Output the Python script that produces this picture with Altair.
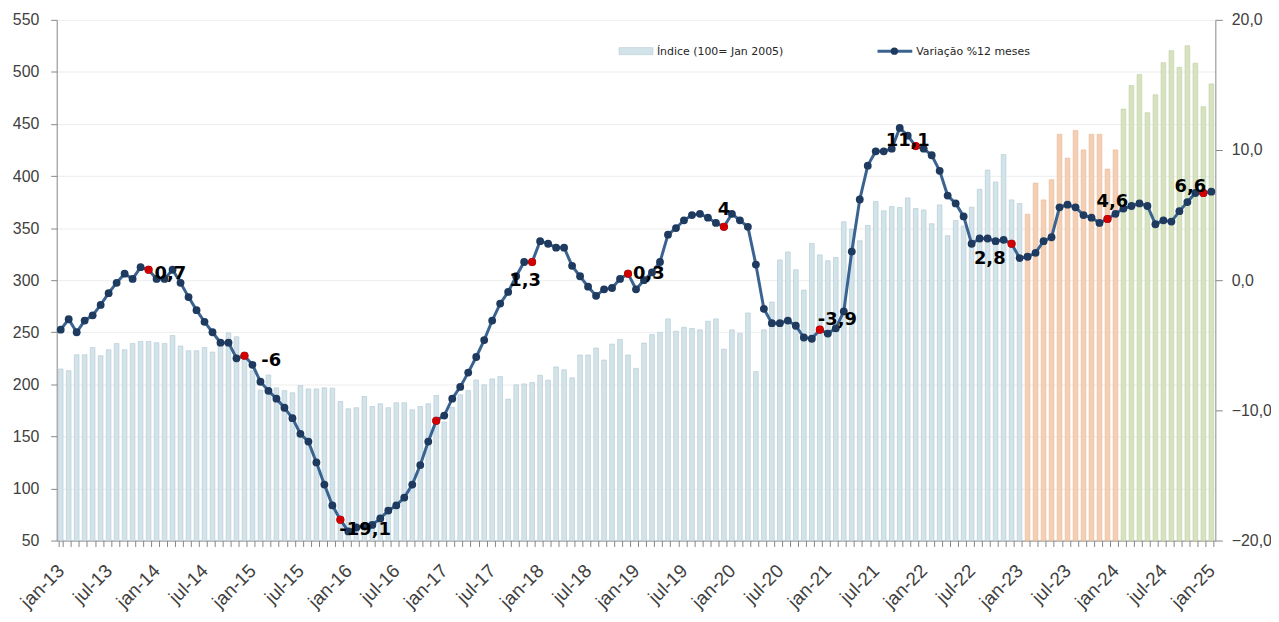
import altair as alt
import pandas as pd

# ---------------- data ----------------
meses_pt = ["jan", "fev", "mar", "abr", "mai", "jun", "jul", "ago", "set", "out", "nov", "dez"]
mes = [f"{meses_pt[i % 12]}-{13 + i // 12}" for i in range(145)]  # jan-13 ... jan-25

indice = [
    214.7, 213.1, 228.4, 228.4, 235.4, 227.5, 233.2, 239.3, 233.2, 239.3, 241.2, 241.2,
    239.9, 239.3, 246.9, 236.7, 232.2, 232.2, 235.4, 231.0, 242.0, 249.4, 245.6, 224.0,
    213.0, 194.4, 209.0, 196.6, 194.0, 191.8, 198.8, 195.6, 195.6, 196.6, 196.3, 183.5,
    176.5, 177.5, 188.3, 178.7, 181.3, 177.5, 182.3, 182.3, 175.6, 178.7, 181.3, 189.3,
    163.8, 178.0, 190.0, 194.0, 204.2, 199.5, 205.2, 207.4, 185.8, 199.5, 200.4, 201.7,
    208.7, 204.0, 216.7, 214.0, 206.2, 228.1, 228.1, 234.8, 223.3, 238.6, 243.1, 228.1,
    215.3, 239.6, 247.9, 249.8, 262.8, 251.0, 254.8, 253.6, 252.3, 260.6, 262.8, 233.8,
    252.3, 248.8, 268.5, 212.2, 252.3, 279.0, 319.5, 327.1, 310.0, 290.5, 335.3, 324.3,
    318.6, 321.7, 356.0, 349.0, 337.9, 352.5, 375.5, 366.6, 370.7, 369.8, 379.0, 368.8,
    367.5, 354.2, 372.3, 342.7, 357.3, 352.0, 370.1, 387.3, 405.7, 394.3, 420.7, 377.1,
    373.6, 363.4, 393.3, 377.1, 396.5, 440.1, 417.2, 443.7, 425.1, 440.1, 440.1, 406.7,
    425.1, 464.3, 486.9, 497.4, 460.8, 478.0, 508.9, 520.4, 504.4, 525.1, 508.3, 466.6,
    488.5,
]

variacao = [
    -3.8, -3.0, -4.0, -3.1, -2.7, -1.9, -1.0, -0.2, 0.5, 0.1, 1.0, 0.8,
    0.1, 0.1, 0.8, -0.2, -1.3, -2.3, -3.2, -4.0, -4.8, -4.8, -6.0, -5.8,
    -6.5, -7.8, -8.5, -9.1, -9.8, -10.6, -11.8, -12.4, -14.0, -15.7, -17.3, -18.4,
    -19.3, -19.0, -18.9, -18.8, -18.3, -17.7, -17.3, -16.7, -15.7, -14.2, -12.4, -10.8,
    -10.4, -9.1, -8.2, -7.1, -5.9, -4.6, -3.1, -1.8, -0.9, 0.3, 1.4, 1.4,
    3.0, 2.8, 2.5, 2.5, 1.1, 0.3, -0.5, -1.2, -0.7, -0.6, 0.1, 0.5,
    -0.7, 0.0, 0.6, 1.4, 3.5, 4.0, 4.6, 5.0, 5.1, 4.8, 4.4, 4.1,
    5.1, 4.6, 4.1, 1.2, -2.2, -3.3, -3.3, -3.1, -3.5, -4.4, -4.5, -3.8,
    -4.1, -3.7, -2.4, 2.2, 6.2, 8.8, 9.9, 9.9, 10.1, 11.7, 11.1, 10.3,
    10.1, 9.6, 8.4, 6.5, 5.9, 4.9, 2.8, 3.2, 3.2, 3.0, 3.1, 2.8,
    1.7, 1.8, 2.1, 3.0, 3.3, 5.6, 5.8, 5.6, 5.0, 4.8, 4.4, 4.7,
    5.1, 5.5, 5.7, 5.9, 5.7, 4.3, 4.6, 4.5, 5.3, 6.0, 6.7, 6.7,
    6.8,
]

grupos = ["até jan-23", "fev-23 a jan-24", "fev-24 a jan-25"]
grupo = [grupos[0]] * 121 + [grupos[1]] * 12 + [grupos[2]] * 12

rotulos_mes = ["dez-13", "dez-14", "dez-15", "dez-17", "dez-18", "dez-19",
               "dez-20", "dez-21", "dez-22", "dez-23", "dez-24"]
rotulos_txt = ["0,7", "-6", "-19,1", "1,3", "0,3", "4", "-3,9", "11,1", "2,8", "4,6", "6,6"]

# label placement (style only): align, dx, dy
rotulo_pos = [
    ("left", 6, 4), ("left", 17, 5), ("left", -1, 10), ("center", -7, 19),
    ("left", 5, 0), ("center", 0, -17), ("left", -2, -10), ("center", -8, -5),
    ("center", -22, 15), ("center", 5, -17), ("center", -13, -6),
]

df = pd.DataFrame({"mes": mes, "indice": indice, "variacao": variacao, "grupo": grupo})

# ---------------- styles ----------------
FONT_AX = "Liberation Sans"
AX_COL = "#868686"
LBL_COL = "#404040"
LINE_COL = "#3A6391"
MARK_COL = "#1F3A5F"
RED = "#D00000"

x_enc = alt.X(
    "mes:N", sort=mes, title=None,
    scale=alt.Scale(paddingInner=0.42, paddingOuter=0.21),
    axis=alt.Axis(
        labelExpr="indexof(['jan','jul'], substring(datum.label,0,3)) >= 0 ? datum.label : ''",
        labelAngle=315, labelAlign="right", labelBaseline="middle",
        labelOverlap=False, labelFont=FONT_AX, labelFontSize=19, labelColor=LBL_COL,
        labelPadding=21, tickBand="extent", tickSize=6, tickColor=AX_COL,
        domainColor=AX_COL, grid=False,
    ),
)

y_left = alt.Y(
    "indice:Q", title=None,
    scale=alt.Scale(domain=[50, 550], nice=False, zero=False),
    axis=alt.Axis(
        orient="left", values=list(range(50, 551, 50)), grid=True, gridColor="#EDEDED",
        labelFont=FONT_AX, labelFontSize=16, labelColor=LBL_COL, labelPadding=12,
        tickSize=6, tickColor=AX_COL, domainColor=AX_COL,
    ),
)

y_right = alt.Y(
    "variacao:Q", title=None,
    scale=alt.Scale(domain=[-20, 20], nice=False, zero=False),
    axis=alt.Axis(
        orient="right", values=[-20, -10, 0, 10, 20], grid=False,
        labelExpr="replace(format(datum.value, '.1f'), '.', ',')",
        labelFont=FONT_AX, labelFontSize=16, labelColor=LBL_COL, labelPadding=9,
        tickSize=7, tickColor=AX_COL, domainColor=AX_COL,
    ),
)

base = alt.Chart(df)

bars = base.mark_bar(strokeWidth=0.7).encode(
    x=x_enc,
    y=y_left,
    y2=alt.datum(50),
    color=alt.Color("grupo:N", scale=alt.Scale(domain=grupos, range=["#D3E3EA", "#F5CFB3", "#D7E3C0"]), legend=None),
    stroke=alt.Stroke("grupo:N", scale=alt.Scale(domain=grupos, range=["#B7CCD6", "#EABC9C", "#C3D3A5"]), legend=None),
)

line = base.mark_line(color=LINE_COL, strokeWidth=3).encode(x=x_enc, y=y_right)
pts = base.mark_point(filled=True, size=62, color=MARK_COL, opacity=1).encode(x=x_enc, y=y_right)
red = base.transform_filter("indexof(datum.mes, 'dez') == 0").mark_point(
    filled=True, size=66, color=RED, opacity=1).encode(x=x_enc, y=y_right)

labels = []
for m, t, (al, dx, dy) in zip(rotulos_mes, rotulos_txt, rotulo_pos):
    labels.append(
        base.transform_filter(alt.datum.mes == m).mark_text(
            text=t, align=al, baseline="middle", dx=dx, dy=dy,
            font="DejaVu Sans", fontSize=18, fontWeight="bold", color="#000000",
        ).encode(x=x_enc, y=y_right)
    )

one = pd.DataFrame({"k": [0]})
leg_rect = alt.Chart(one).mark_rect(fill="#D3E3EA", stroke="#B7CCD6", strokeWidth=0.7).encode(
    x=alt.value(566), x2=alt.value(600), y=alt.value(28), y2=alt.value(35))
leg_txt1 = alt.Chart(one).mark_text(
    text="Índice (100= Jan 2005)", align="left", baseline="middle",
    font="DejaVu Sans", fontSize=11, color="#262626").encode(x=alt.value(604), y=alt.value(32))
leg_line = alt.Chart(one).mark_rule(color=LINE_COL, strokeWidth=3).encode(
    x=alt.value(826), x2=alt.value(861), y=alt.value(31.5))
leg_pt = alt.Chart(one).mark_point(filled=True, size=55, color=MARK_COL, opacity=1).encode(
    x=alt.value(843), y=alt.value(31.5))
leg_txt2 = alt.Chart(one).mark_text(
    text="Variação %12 meses", align="left", baseline="middle",
    font="DejaVu Sans", fontSize=11, color="#262626").encode(x=alt.value(865), y=alt.value(32))

right_layer = alt.layer(line, pts, red, *labels, leg_rect, leg_txt1, leg_line, leg_pt, leg_txt2)

chart = alt.layer(bars, right_layer).resolve_scale(y="independent").properties(
    width=1166, height=524,
    padding={"left": 49, "top": 10, "right": 56, "bottom": 70},
    autosize=alt.AutoSizeParams(type="none"),
    background="white",
).configure_view(stroke=None)

chart.save("out.html", embed_options={"renderer": "svg", "actions": False})
